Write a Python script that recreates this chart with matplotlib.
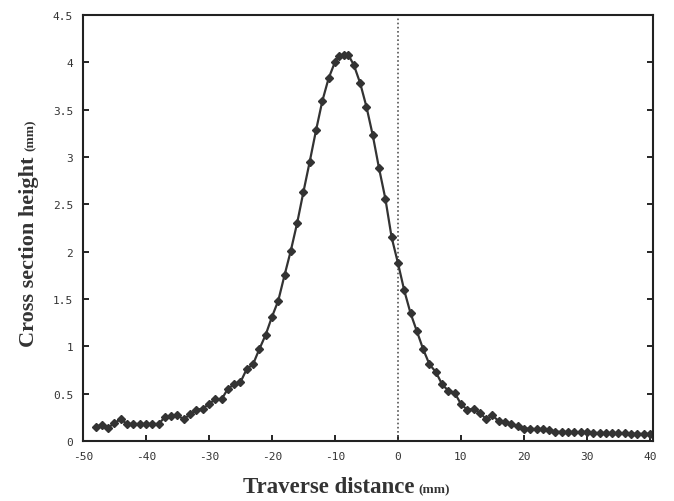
import numpy as np
import matplotlib
matplotlib.use("Agg")
import matplotlib.pyplot as plt

plt.rcParams['axes.unicode_minus'] = False

# traverse position (mm) and cross-section height (mm)
dist = [-48, -47, -46, -45, -44, -43, -42, -41, -40, -39, -38, -37, -36, -35,
        -34, -33, -32, -31, -30, -29, -28, -27, -26, -25, -24, -23, -22, -21,
        -20, -19, -18, -17, -16, -15, -14, -13, -12, -11, -10, -9.3, -8.6, -7.9,
        -7, -6, -5, -4, -3, -2, -1, 0, 1, 2, 3, 4, 5, 6, 7, 8, 9, 10,
        11, 12, 13, 14, 15, 16, 17, 18, 19, 20, 21, 22, 23, 24, 25, 26,
        27, 28, 29, 30, 31, 32, 33, 34, 35, 36, 37, 38, 39, 40]
height = [0.15, 0.17, 0.14, 0.19, 0.23, 0.18, 0.18, 0.18, 0.18, 0.18, 0.18, 0.25, 0.26, 0.27,
          0.23, 0.28, 0.33, 0.34, 0.39, 0.44, 0.44, 0.55, 0.60, 0.62, 0.76, 0.81, 0.97, 1.12,
          1.31, 1.48, 1.75, 2.01, 2.30, 2.63, 2.95, 3.28, 3.59, 3.83, 4.00, 4.07, 4.08, 4.08,
          3.97, 3.78, 3.53, 3.23, 2.88, 2.56, 2.15, 1.88, 1.59, 1.35, 1.16, 0.97, 0.81, 0.73,
          0.60, 0.53, 0.51, 0.39,
          0.33, 0.34, 0.30, 0.23, 0.27, 0.21, 0.20, 0.18, 0.155, 0.13, 0.13, 0.125, 0.125, 0.115,
          0.10, 0.095, 0.095, 0.09, 0.09, 0.09, 0.085, 0.085, 0.085, 0.08, 0.08, 0.08, 0.078,
          0.075, 0.075, 0.075]

xticks = [-50, -40, -30, -20, -10, 0, 10, 20, 30, 40]
yticks = [0, 0.5, 1, 1.5, 2, 2.5, 3, 3.5, 4, 4.5]
ylabels = ["0", "0.5", "1", "1.5", "2", "2.5", "3", "3.5", "4", "4.5"]

W, H = 674, 502
fig = plt.figure(figsize=(W / 100, H / 100), dpi=100)
ax = fig.add_axes([0.123, 0.1195, 0.846, 0.849])

ax.axvline(0, color="#555555", lw=1.2, ls=(0, (1, 1.5)))
ax.plot(dist, height, color="#333333", lw=1.6, marker="D", ms=3.8,
        mfc="#333333", mec="#333333")

ax.set_xlim(-50, 40.5)
ax.set_ylim(0, 4.5)
ax.set_xticks(xticks)
ax.set_yticks(yticks)
ax.set_yticklabels(ylabels)
ax.tick_params(direction="in", length=4, width=1.2, right=True,
               labelsize=8, labelcolor="#333333", pad=7)
for lab in ax.get_xticklabels() + ax.get_yticklabels():
    lab.set_family("DejaVu Sans Mono")
for sp in ax.spines.values():
    sp.set_linewidth(1.5)
    sp.set_color("#222222")

# axis titles: bold serif with smaller unit text right after
ser = dict(family="Liberation Serif", weight="bold", color="#333333")
fig.canvas.draw()
r = fig.canvas.get_renderer()

xl = fig.text(243 / W, (H - 493) / H, "Traverse distance", ha="left", va="baseline",
              size=16.5, **ser)
bb = xl.get_window_extent(r)
fig.text((bb.x1 + 4) / W, (H - 493) / H, "(mm)", ha="left", va="baseline", size=9.5, **ser)

yl = fig.text(34 / W, (H - 347) / H, "Cross section height", rotation=90,
              rotation_mode="anchor", ha="left", va="baseline", size=16, **ser)
bb = yl.get_window_extent(r)
fig.text(34 / W, (bb.y1 + 5) / H, "(mm)", rotation=90, rotation_mode="anchor",
         ha="left", va="baseline", size=9.5, **ser)

fig.savefig("out.png", dpi=100)
